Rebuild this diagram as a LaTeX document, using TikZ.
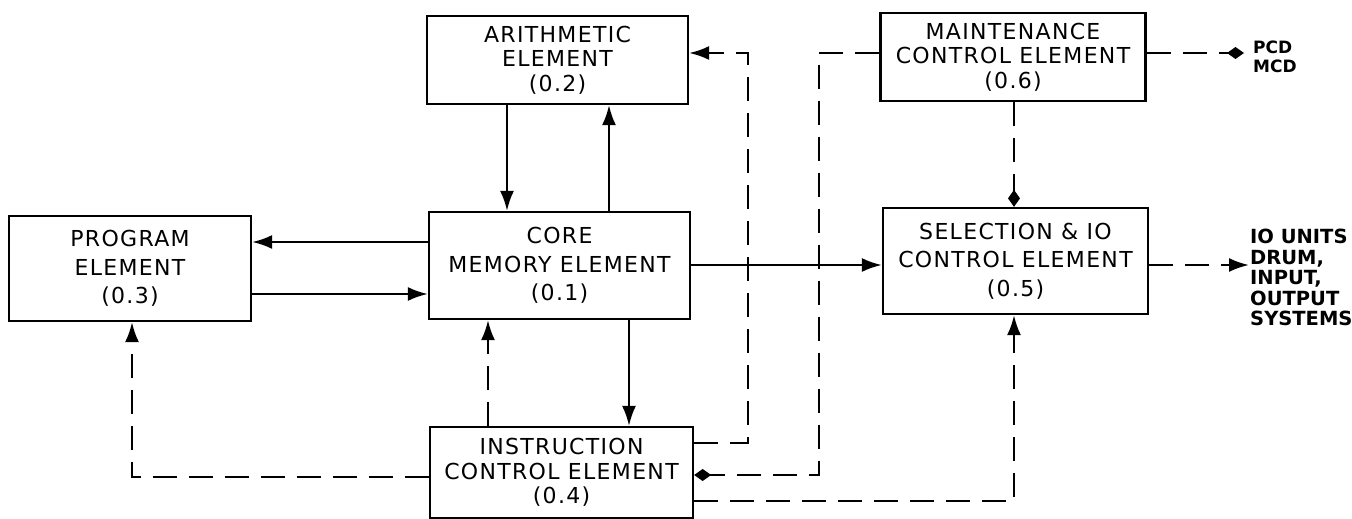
\documentclass[tikz,border=0pt]{standalone}
\usepackage{fontspec}
\usetikzlibrary{arrows.meta}
\newfontfamily\boxfont[LetterSpace=6]{DejaVu Sans}
\newfontfamily\labfont{DejaVu Sans}
\begin{document}
\begin{tikzpicture}[x=1pt,y=-1pt,
  box/.style={draw, line width=2.3pt, align=center, inner sep=0pt},
  bigtxt/.style={font={\boxfont\fontsize{22}{28.5}\selectfont}},
  smalltxt/.style={font={\boxfont\fontsize{22}{24.5}\selectfont}},
  lab/.style={align=left, inner sep=0pt},
  arr/.style={line width=2.3pt, -{Latex[length=20pt,width=14pt]}},
  darr/.style={arr, dash pattern=on 24pt off 12pt},
  ddia/.style={line width=2.3pt, dash pattern=on 24pt off 12pt, -{Diamond[length=17pt,width=12pt]}}
]
\useasboundingbox (0,0) rectangle (1352,519);
\fill[white] (0,0) rectangle (1352,519);

% boxes
\node[box, smalltxt, minimum width=261pt, minimum height=88pt] (arith) at (557.5,60) {ARITHMETIC\\ELEMENT\\(0.2)};
\node[box, smalltxt, minimum width=265pt, minimum height=88pt] (maint) at (1013,57) {MAINTENANCE\\CONTROL ELEMENT\\(0.6)};
\node[box, bigtxt, minimum width=242pt, minimum height=105pt] (prog) at (130,268.5) {PROGRAM\\ELEMENT\\(0.3)};
\node[box, bigtxt, minimum width=261pt, minimum height=107pt] (core) at (559.5,265.5) {CORE\\MEMORY ELEMENT\\(0.1)};
\node[box, bigtxt, minimum width=265pt, minimum height=106pt] (sel) at (1015.5,261) {SELECTION \& IO\\CONTROL ELEMENT\\(0.5)};
\node[box, smalltxt, minimum width=263pt, minimum height=91pt] (instr) at (561.5,472.5) {INSTRUCTION\\CONTROL ELEMENT\\(0.4)};

% labels
\node[lab, anchor=west, font={\labfont\bfseries\fontsize{17}{18.5}\selectfont}] (pcd) at (1253,57) {PCD\\MCD};
\node[lab, anchor=north west, font={\labfont\bfseries\fontsize{19.5}{20.5}\selectfont}] (io) at (1250,229) {IO UNITS\\DRUM,\\INPUT,\\OUTPUT\\SYSTEMS};

% helper coordinates
\coordinate (c1) at (507,0);
\coordinate (c2) at (609,0);
\coordinate (c3) at (488,0);
\coordinate (c4) at (629,0);
\coordinate (c5) at (748,0);
\coordinate (c6) at (819,0);
\coordinate (c7) at (1014,0);
\coordinate (c8) at (132,0);
\coordinate (r1) at (0,53);
\coordinate (r2) at (0,242);
\coordinate (r3) at (0,294);
\coordinate (r4) at (0,265);
\coordinate (r5) at (0,443);
\coordinate (r6) at (0,475);
\coordinate (r7) at (0,501);
\coordinate (r8) at (0,477);
\coordinate (pcdend) at (1244,53);
\coordinate (ioend) at (1249,265);

% solid connectors
\draw[arr] (arith.south -| c1) -- (core.north -| c1);
\draw[arr] (core.north -| c2) -- (arith.south -| c2);
\draw[arr] (core.west |- r2) -- (prog.east |- r2);
\draw[arr] (prog.east |- r3) -- (core.west |- r3);
\draw[arr] (core.east |- r4) -- (sel.west |- r4);
\draw[arr] (core.south -| c4) -- (instr.north -| c4);

% dashed connectors
\draw[darr] (instr.north -| c3) -- (core.south -| c3);
\draw[darr] (instr.east |- r5) -| (c5 |- r1) -- (arith.east |- r1);
\draw[ddia] (maint.west |- r1) -| (c6 |- r6) -- (instr.east |- r6);
\draw[darr] (instr.east |- r7) -| (sel.south -| c7);
\draw[darr] (instr.west |- r8) -| (prog.south -| c8);
\draw[ddia] (maint.south -| c7) -- (sel.north -| c7);
\draw[ddia] (maint.east |- r1) -- (pcdend);
\draw[darr] (sel.east |- r4) -- (ioend);
\end{tikzpicture}
\end{document}
